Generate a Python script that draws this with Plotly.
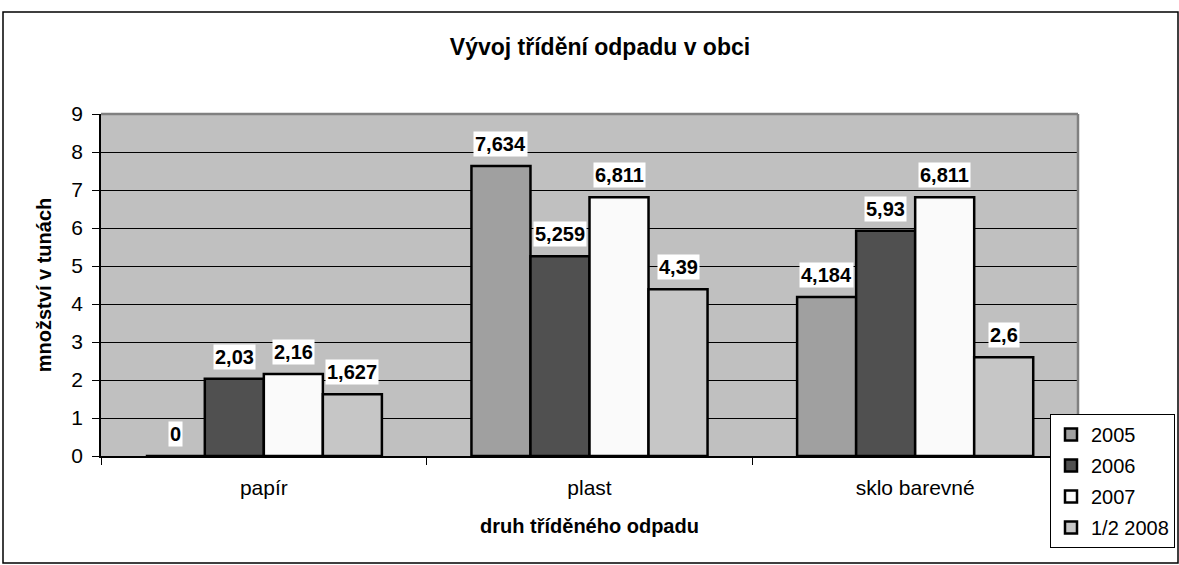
import plotly.graph_objects as go

categories = ["papír", "plast", "sklo barevné"]
series_names = ["2005", "2006", "2007", "1/2 2008"]
v2005 = [0, 7.634, 4.184]
v2006 = [2.03, 5.259, 5.93]
v2007 = [2.16, 6.811, 6.811]
v2008 = [1.627, 4.39, 2.6]
colors = ["#a0a0a0", "#505050", "#fafafa", "#c6c6c6"]

title = "Vývoj třídění odpadu v obci"
x_title = "druh tříděného odpadu"
y_title = "množství v tunách"

FONT = "Liberation Sans, Arial, sans-serif"
all_vals = [v2005, v2006, v2007, v2008]
bargap = 0.275

fig = go.Figure()
for name, vals, col in zip(series_names, all_vals, colors):
    fig.add_trace(go.Bar(
        x=categories, y=vals, name=name, legendgroup=name,
        marker=dict(color=col, line=dict(color="black", width=2.5)),
    ))

# data labels
w = (1 - bargap) / len(series_names)
annotations = []
for j, vals in enumerate(all_vals):
    for i, v in enumerate(vals):
        xpos = i + (j - (len(series_names) - 1) / 2) * w
        annotations.append(dict(
            x=xpos, y=v, xref="x", yref="y",
            text="<b>" + ("%g" % v).replace(".", ",") + "</b>",
            showarrow=False, yanchor="bottom", yshift=9,
            bgcolor="white", borderpad=1,
            font=dict(family=FONT, size=20, color="black"),
        ))

fig.update_layout(
    width=1179, height=565,
    margin=dict(l=101, r=101, t=114, b=109, autoexpand=False),
    paper_bgcolor="white", plot_bgcolor="#c0c0c0",
    barmode="group", bargap=bargap, bargroupgap=0,
    font=dict(family=FONT, size=20, color="black"),
    title=dict(text="<b>" + title + "</b>", x=(600 - 101) / 977, xref="paper",
               xanchor="center",
               y=1 - 47 / 565, yref="container", yanchor="middle",
               font=dict(family=FONT, size=23, color="black")),
    xaxis=dict(
        type="category", showline=True, linecolor="black", linewidth=1.5,
        ticks="outside", tickson="boundaries", ticklen=7, tickcolor="black",
        ticklabelstandoff=12,
        showgrid=False,
        title=dict(text="<b>" + x_title + "</b>", standoff=21,
                   font=dict(family=FONT, size=20)),
        tickfont=dict(family=FONT, size=21),
    ),
    yaxis=dict(
        range=[0, 9], dtick=1, showline=True, linecolor="black", linewidth=1.5,
        ticks="outside", ticklen=7, tickcolor="black",
        ticklabelstandoff=5,
        showgrid=True, gridcolor="black", gridwidth=1, zeroline=False,
        title=dict(text="<b>" + y_title + "</b>", standoff=14,
                   font=dict(family=FONT, size=20)),
        tickfont=dict(family=FONT, size=21),
    ),
    legend=dict(
        x=(1050 - 101) / 977, xanchor="left", y=(456 - 414) / 342, yanchor="top",
        bgcolor="white", bordercolor="black", borderwidth=1,
        font=dict(family=FONT, size=20, color="black"),
        traceorder="grouped", tracegroupgap=2,
        itemclick=False,
    ),
    annotations=annotations,
    shapes=[
        # outer chart border
        dict(type="rect", xref="paper", yref="paper",
             x0=(3 - 101) / 977, x1=(1178 - 101) / 977,
             y0=(456 - 563) / 342, y1=(456 - 12) / 342,
             line=dict(color="black", width=1.5), layer="below"),
        # plot-area gray border top & right
        dict(type="line", xref="paper", yref="paper", x0=0, x1=1, y0=1, y1=1,
             line=dict(color="#808080", width=2.5), layer="above"),
        dict(type="line", xref="paper", yref="paper", x0=1, x1=1, y0=0, y1=1,
             line=dict(color="#808080", width=2.5), layer="above"),
    ],
)

fig.write_html("out.html", config={"displayModeBar": False},
               post_script="document.body.style.margin='0px';")
